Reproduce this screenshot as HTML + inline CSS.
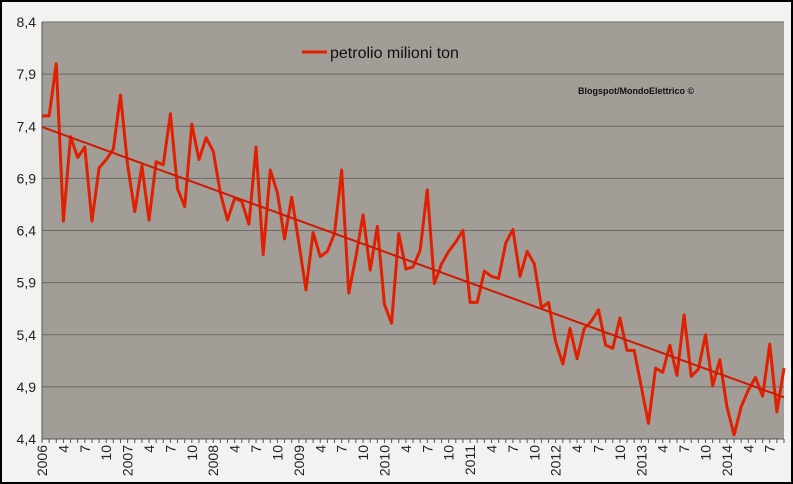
<!DOCTYPE html>
<html><head><meta charset="utf-8"><style>
html,body{margin:0;padding:0;background:#000}
svg{display:block;font-family:"Liberation Sans",sans-serif}
</style></head><body>
<svg id="chart" width="793" height="484">
<rect x="1" y="1" width="791" height="482" fill="#f2f2f0" stroke="#000" stroke-width="2"/>
<rect x="42" y="22" width="742" height="417" fill="#a39d97"/>
<g id="grid"></g><g id="yaxis"></g><g id="xaxis"></g><g id="series"></g>
<line x1="302" y1="52" x2="327" y2="52" stroke="#e02000" stroke-width="3"/>
<text x="330" y="58" font-size="16" fill="#111">petrolio milioni ton</text>
<text x="578" y="94" font-size="9" font-weight="bold" fill="#111">Blogspot/MondoElettrico ©</text>
</svg>
<script>
const values=[7.50,7.50,8.00,6.49,7.30,7.10,7.20,6.49,7.00,7.08,7.18,7.70,7.03,6.58,7.02,6.50,7.06,7.03,7.52,6.80,6.63,7.42,7.08,7.29,7.16,6.76,6.50,6.71,6.68,6.46,7.20,6.17,6.98,6.76,6.32,6.72,6.28,5.83,6.38,6.15,6.20,6.37,6.98,5.80,6.15,6.55,6.02,6.44,5.69,5.51,6.37,6.03,6.05,6.21,6.79,5.89,6.08,6.20,6.29,6.40,5.71,5.71,6.01,5.96,5.94,6.28,6.41,5.96,6.20,6.08,5.66,5.71,5.33,5.12,5.46,5.17,5.46,5.53,5.64,5.30,5.27,5.56,5.25,5.25,4.90,4.55,5.08,5.04,5.30,5.01,5.59,5.00,5.07,5.40,4.91,5.16,4.71,4.44,4.71,4.87,4.99,4.81,5.31,4.66,5.08];
const yTicks=[4.4,4.9,5.4,5.9,6.4,6.9,7.4,7.9,8.4];
const startYear=2006;
const NS="http://www.w3.org/2000/svg";
const L=42,R=784,T=22,B=439,yMin=4.4,yMax=8.4;
const n=values.length;
const xs=i=>L+i*(R-L)/(n-1);
const ys=v=>B-(v-yMin)/(yMax-yMin)*(B-T);
function mk(tag,attrs,parent){const e=document.createElementNS(NS,tag);for(const k in attrs)e.setAttribute(k,attrs[k]);parent.appendChild(e);return e;}
const grid=document.getElementById('grid'),ya=document.getElementById('yaxis'),xa=document.getElementById('xaxis'),se=document.getElementById('series');
yTicks.forEach(t=>{
  const y=ys(t);
  const g=mk('line',{x1:L,x2:R,y1:y,y2:y,stroke:'#6e6a66','stroke-width':1},grid);
  
  
  const tx=mk('text',{x:36,y:y+5,'font-size':14,'text-anchor':'end',fill:'#222'},ya);
  tx.textContent=t.toFixed(1).replace('.',',');
  
  
});
const ax=mk('line',{x1:L,x2:L,y1:T,y2:B,stroke:'#555'},ya);


const bx=mk('line',{x1:L,x2:R,y1:B,y2:B,stroke:'#555'},xa);


for(let i=0;i<n;i++){
  const x=xs(i);
  const tk=mk('line',{x1:x,x2:x,y1:B,y2:B+4,stroke:'#555'},xa);
  
  
  if(i%3===0){
    const m=i%12;
    const lab=m===0?String(startYear+i/12):String(m+1);
    const t=mk('text',{x:0,y:0,'font-size':14,'text-anchor':'end',fill:'#222',transform:`translate(${x+5},${B+6}) rotate(-90)`},xa);
    t.textContent=lab;
    
    
  }
}
const pl=mk('polyline',{points:values.map((v,i)=>xs(i)+','+ys(v)).join(' '),fill:'none',stroke:'#e02000','stroke-width':3,'stroke-linejoin':'round'},se);


let sx=0,sy=0,sxx=0,sxy=0;values.forEach((v,i)=>{sx+=i;sy+=v;sxx+=i*i;sxy+=i*v;});
const slope=(n*sxy-sx*sy)/(n*sxx-sx*sx),icpt=(sy-slope*sx)/n;
const tr=mk('line',{x1:xs(0),y1:ys(icpt),x2:xs(n-1),y2:ys(icpt+slope*(n-1)),stroke:'#d01800','stroke-width':2},se);


</script>
</body></html>
